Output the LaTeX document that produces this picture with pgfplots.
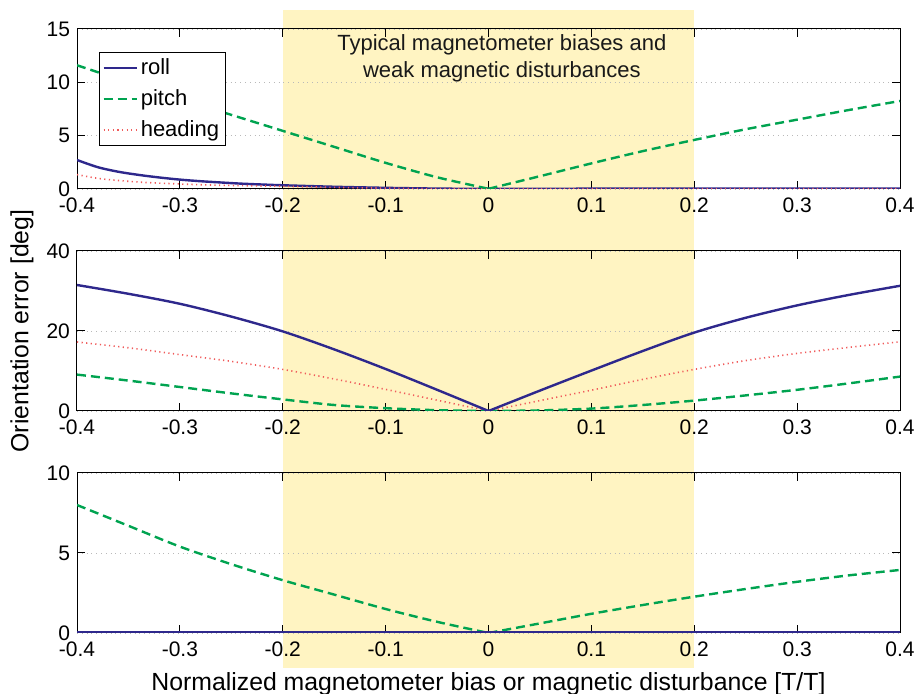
\documentclass[border=0pt]{standalone}
\usepackage{fontspec}
\setmainfont{Liberation Sans}
\usepackage{pgfplots}
\pgfplotsset{compat=1.18}

\definecolor{rollc}{RGB}{46,40,140}
\definecolor{pitchc}{RGB}{0,163,80}
\definecolor{headc}{RGB}{240,90,90}
\definecolor{bandc}{RGB}{255,244,194}

\pgfplotsset{
  panel/.style={
    width=411.5pt, height=80pt, scale only axis,
    xmin=-0.4, xmax=0.4,
    xtick={-0.4,-0.3,-0.2,-0.1,0,0.1,0.2,0.3,0.4},
    xticklabels={-0.4,-0.3,-0.2,-0.1,0,0.1,0.2,0.3,0.4},
    tick align=inside,
    ymajorgrids,
    major grid style={dotted, gray!55, line width=0.4pt},
    axis line style={line width=0.5pt},
    every tick/.style={black, line width=0.5pt},
    major tick length=4pt,
    tick label style={font=\fontsize{10.5}{12}\selectfont},
    xticklabel style={anchor=base, yshift=-12pt},
  },
  rollst/.style={rollc, line width=1.2pt, solid, smooth, tension=0.5},
  pitchst/.style={pitchc, line width=1.2pt, dash pattern=on 4.5pt off 2.5pt, smooth, tension=0.5},
  headst/.style={headc, line width=0.8pt, dash pattern=on 0.6pt off 1.7pt, smooth, tension=0.5},
}

\begin{document}
\begin{tikzpicture}
\useasboundingbox (0pt,0pt) rectangle (458.5pt,-347pt);

% shaded band spanning all panels
\begin{axis}[
  width=411.5pt, height=329pt, scale only axis,
  at={(38.5pt,-5pt)}, anchor=north west,
  xmin=-0.4, xmax=0.4, ymin=0, ymax=1, hide axis]
\addplot[draw=none, fill=bandc] coordinates {(-0.2,0) (0.2,0) (0.2,1) (-0.2,1)} -- cycle;
\end{axis}

% panel 1
\begin{axis}[panel,
  at={(38.5pt,-14.5pt)}, anchor=north west,
  ymin=0, ymax=15, ytick={0,5,10,15}, yticklabels={0,5,10,15},
  legend style={at={(0.0267,0.856)}, anchor=north west, draw=black, fill=white,
    font=\fontsize{11}{13}\selectfont, inner sep=1.5pt, row sep=3pt,
    nodes={inner sep=1.5pt}},
  legend cell align=left,
  legend image code/.code={\draw[#1] (0pt,0pt) -- (16.5pt,0pt);},
]
\addplot[rollst] coordinates {
(-0.4,2.72) (-0.38,2.05) (-0.36,1.62) (-0.34,1.32) (-0.32,1.08) (-0.3,0.88)
(-0.28,0.73) (-0.26,0.61) (-0.24,0.5) (-0.22,0.42) (-0.2,0.35) (-0.15,0.21)
(-0.1,0.11) (-0.05,0.04) (0,0.01) (0.05,0.02) (0.1,0.03) (0.2,0.04) (0.3,0.05) (0.4,0.05)};
\addlegendentry{roll}
\addplot[pitchst] coordinates {
(-0.4,11.6) (-0.35,10.0) (-0.3,8.45) (-0.25,6.95) (-0.2,5.45) (-0.15,3.95)
(-0.1,2.45) (-0.05,1.1) (0,0.02)};
\addlegendentry{pitch}
\addplot[headst] coordinates {
(-0.4,1.35) (-0.38,1.0) (-0.36,0.8) (-0.34,0.65) (-0.32,0.55) (-0.3,0.47)
(-0.28,0.4) (-0.25,0.33) (-0.2,0.25) (-0.15,0.15) (-0.1,0.08) (-0.05,0.03)
(0,0.01) (0.1,0.02) (0.2,0.02) (0.3,0.02) (0.4,0.02)};
\addlegendentry{heading}
\addplot[pitchst, forget plot] coordinates {
(0,0.02) (0.05,1.2) (0.1,2.4) (0.15,3.55) (0.2,4.6)
(0.25,5.6) (0.3,6.5) (0.35,7.4) (0.4,8.25)};
\node[align=center, font=\fontsize{11}{13.35}\selectfont, text=black!90]
  at (axis cs:0.013,12.24) {Typical magnetometer biases and\\weak magnetic disturbances};
\end{axis}

% panel 2
\begin{axis}[panel,
  at={(38.5pt,-125.5pt)}, anchor=north west,
  ymin=0, ymax=40, ytick={0,20,40}, yticklabels={0,20,40},
  ylabel={Orientation error [deg]},
  ylabel style={font=\fontsize{12.4}{14}\selectfont, at={(axis description cs:-0.0668,0.5)}, anchor=center},
]
\addplot[headst] coordinates {
(-0.4,17.25) (-0.35,15.8) (-0.3,14.1) (-0.25,12.4) (-0.2,10.4) (-0.15,8.0)
(-0.1,5.4) (-0.05,2.7) (0,0)};
\addplot[headst] coordinates {
(0,0) (0.05,2.6) (0.1,5.2) (0.15,7.9) (0.2,10.4)
(0.25,12.6) (0.3,14.4) (0.35,15.9) (0.4,17.3)};
\addplot[pitchst] coordinates {
(-0.4,9.1) (-0.35,7.6) (-0.3,6.0) (-0.25,4.4) (-0.2,2.9) (-0.15,1.5)
(-0.1,0.7) (-0.05,0.2) (0,0)};
\addplot[pitchst] coordinates {
(0,0) (0.05,0.15) (0.1,0.6) (0.15,1.5) (0.2,2.6)
(0.25,3.9) (0.3,5.3) (0.35,6.9) (0.4,8.6)};
\addplot[rollst] coordinates {
(-0.4,31.5) (-0.35,29.3) (-0.3,26.8) (-0.25,23.6) (-0.2,19.9) (-0.15,15.4)
(-0.1,10.5) (-0.05,5.3) (0,0)};
\addplot[rollst] coordinates {
(0,0) (0.05,5.1) (0.1,10.1) (0.15,15.0) (0.2,19.6)
(0.25,23.3) (0.3,26.4) (0.35,29.0) (0.4,31.3)};
\end{axis}

% panel 3
\begin{axis}[panel,
  at={(38.5pt,-236.5pt)}, anchor=north west,
  ymin=0, ymax=10, ytick={0,5,10}, yticklabels={0,5,10},
  xlabel={Normalized magnetometer bias or magnetic disturbance [T/T]},
  xlabel style={font=\fontsize{12.4}{14}\selectfont, at={(axis description cs:0.5,-0.3625)}, anchor=base},
]
\addplot[headst] coordinates {(-0.4,0.02) (0,0.02) (0.4,0.02)};
\addplot[pitchst] coordinates {
(-0.4,8.0) (-0.35,6.7) (-0.3,5.4) (-0.25,4.3) (-0.2,3.3) (-0.15,2.4)
(-0.1,1.5) (-0.05,0.7) (0,0)};
\addplot[pitchst] coordinates {
(0,0) (0.05,0.6) (0.1,1.2) (0.15,1.75) (0.2,2.27)
(0.25,2.75) (0.3,3.2) (0.35,3.6) (0.4,3.94)};
\addplot[rollst] coordinates {(-0.4,0.03) (0,0.03) (0.4,0.03)};
\end{axis}
\end{tikzpicture}
\end{document}
